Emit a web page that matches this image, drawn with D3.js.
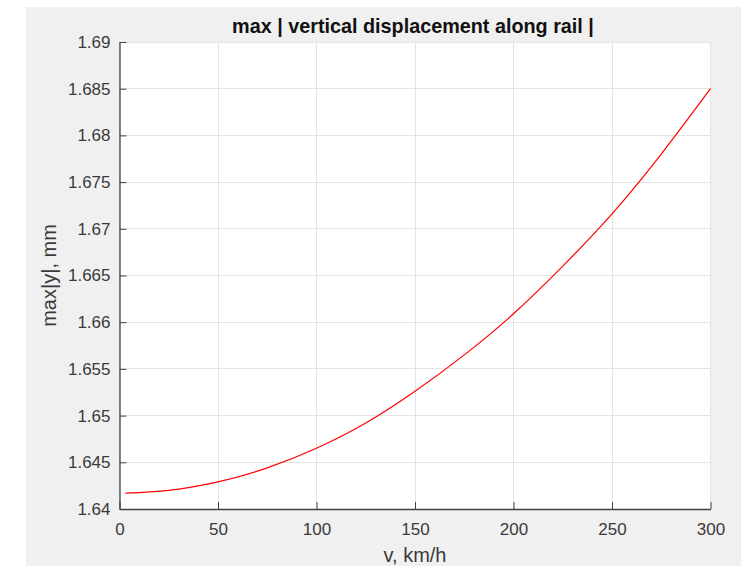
<!DOCTYPE html>
<html>
<head>
<meta charset="utf-8">
<script src="https://cdn.jsdelivr.net/npm/d3@7"></script>
<style>
  html, body { margin: 0; padding: 0; background: #ffffff; }
  svg { display: block; }
  text { font-family: "Liberation Sans", Arial, Helvetica, sans-serif; }
</style>
</head>
<body>
<svg id="chart" width="741" height="566"></svg>
<script>
// ---- data ----
const speeds = [3, 25, 50, 75, 100, 125, 150, 175, 200, 225, 250, 275, 300];
const maxDisp = [1.6417, 1.6420, 1.6429, 1.6444, 1.6465, 1.6492, 1.6526, 1.6565, 1.6609, 1.6660, 1.6716, 1.6780, 1.6850];
const xTicks = [0, 50, 100, 150, 200, 250, 300];
const yTicks = [1.64, 1.645, 1.65, 1.655, 1.66, 1.665, 1.67, 1.675, 1.68, 1.685, 1.69];
const titleText = "max | vertical displacement along rail |";
const xLabel = "v, km/h";
const yLabel = "max|y|, mm";

// ---- layout ----
const W = 741, H = 566;
const plot = { left: 119.5, right: 710.5, top: 42, bottom: 509 };
const axisColor = "#404040";
const textColor = "#3a3a3a";
const gridColor = "#e3e3e3";

const svg = d3.select("#chart");

// figure background
svg.append("rect").attr("x", 26).attr("y", 7).attr("width", W - 26).attr("height", H - 7).attr("fill", "#f0f0f0");

const x = d3.scaleLinear().domain([0, 300]).range([plot.left, plot.right]);
const y = d3.scaleLinear().domain([1.64, 1.69]).range([plot.bottom, plot.top]);

// plot area
svg.append("rect")
  .attr("x", plot.left).attr("y", plot.top)
  .attr("width", plot.right - plot.left).attr("height", plot.bottom - plot.top)
  .attr("fill", "#ffffff");

// grid
const grid = svg.append("g").attr("stroke", gridColor).attr("stroke-width", 1).attr("shape-rendering", "crispEdges");
grid.selectAll("line.gx").data(xTicks).join("line")
  .attr("x1", d => x(d)).attr("x2", d => x(d))
  .attr("y1", plot.top).attr("y2", plot.bottom);
grid.selectAll("line.gy").data(yTicks).join("line")
  .attr("x1", plot.left).attr("x2", plot.right)
  .attr("y1", d => y(d)).attr("y2", d => y(d));

// curve
const line = d3.line().x((d, i) => x(speeds[i])).y(d => y(d)).curve(d3.curveNatural);
svg.append("path")
  .datum(maxDisp)
  .attr("d", line)
  .attr("fill", "none")
  .attr("stroke", "#ff0000")
  .attr("stroke-width", 1.2);

// axes
const xAxis = d3.axisBottom(x).tickValues(xTicks).tickSize(-7).tickSizeOuter(0).tickPadding(14)
  .tickFormat(d3.format("d"));
const gx = svg.append("g").attr("transform", `translate(0,${plot.bottom})`).call(xAxis);
const yAxis = d3.axisLeft(y).tickValues(yTicks).tickSize(-7).tickSizeOuter(0).tickPadding(9)
  .tickFormat(d => String(+d.toFixed(3)));
const gy = svg.append("g").attr("transform", `translate(${plot.left},0)`).call(yAxis);

[gx, gy].forEach(g => {
  g.select(".domain").attr("stroke", axisColor).attr("stroke-width", 1.3);
  g.selectAll(".tick line").attr("stroke", axisColor).attr("stroke-width", 1);
  g.selectAll(".tick text").attr("fill", textColor).attr("font-size", "17px")
    .attr("font-family", "'Liberation Sans', Arial, Helvetica, sans-serif");
});
gx.selectAll(".tick text").attr("dy", "0.71em");

// title
svg.append("text")
  .attr("x", (plot.left + plot.right) / 2 - 2).attr("y", 32.5)
  .attr("text-anchor", "middle")
  .attr("font-size", "19.8px").attr("font-weight", "bold").attr("fill", "#111111")
  .text(titleText);

// x label
svg.append("text")
  .attr("x", (plot.left + plot.right) / 2).attr("y", 562)
  .attr("text-anchor", "middle")
  .attr("font-size", "20px").attr("fill", textColor)
  .text(xLabel);

// y label
svg.append("text")
  .attr("transform", `translate(56,${(plot.top + plot.bottom) / 2}) rotate(-90)`)
  .attr("text-anchor", "middle")
  .attr("font-size", "20px").attr("fill", textColor)
  .text(yLabel);
</script>
</body>
</html>
